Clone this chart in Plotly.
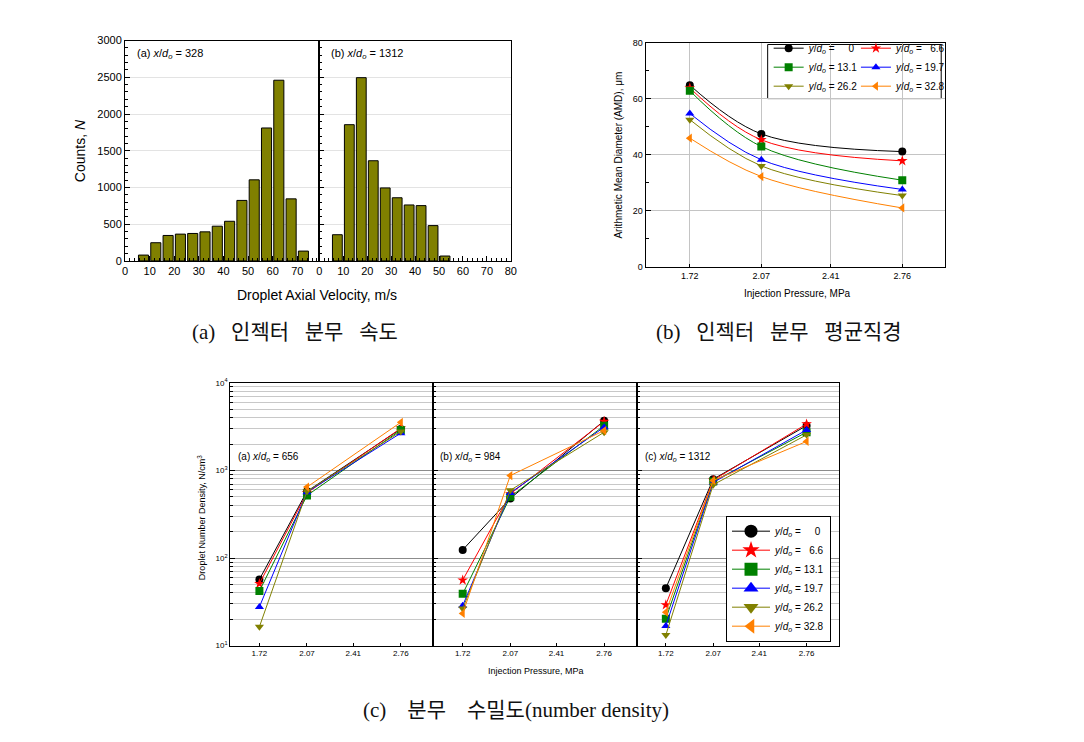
import plotly.graph_objects as go

W, H = 1084, 742
OFF = 8  # default page margin of the html body


def px(x):
    return (x - OFF) / W


def py(y):
    return 1 - (y - OFF) / H


FONT = "Arial, Liberation Sans, sans-serif"
CAP_FONT = "Liberation Serif, Noto Sans CJK KR, serif"

# ---------------- data: (a) droplet axial velocity histograms ----------------
vel_a = [7.5, 12.5, 17.5, 22.5, 27.5, 32.5, 37.5, 42.5, 47.5, 52.5, 57.5, 62.5, 67.5, 72.5]
cnt_a = [80, 248, 347, 365, 374, 396, 473, 540, 824, 1104, 1810, 2460, 845, 134]
vel_b = [7.5, 12.5, 17.5, 22.5, 27.5, 32.5, 37.5, 42.5, 47.5, 52.5]
cnt_b = [357, 1855, 2495, 1364, 994, 860, 762, 753, 481, 67]
vel_ticks_a = [0, 10, 20, 30, 40, 50, 60, 70]
vel_ticks_b = [0, 10, 20, 30, 40, 50, 60, 70, 80]

# ---------------- data: (b) arithmetic mean diameter ----------------
pressure = [1.72, 2.07, 2.76]
pressure_ticks = [1.72, 2.07, 2.41, 2.76]
pressure_ticktext = ["1.72", "2.07", "2.41", "2.76"]
series_labels = ["\u2007\u20070", "\u20076.6", "13.1", "19.7", "26.2", "32.8"]

amd_y0 = [64.8, 47.4, 41.1]
amd_y66 = [63.8, 45.3, 37.8]
amd_y131 = [62.8, 42.9, 30.9]
amd_y197 = [54.7, 38.2, 27.6]
amd_y262 = [52.5, 36.0, 25.4]
amd_y328 = [45.9, 32.2, 21.0]

# ---------------- data: (c) droplet number density ----------------
nd_a_y0 = [57, 578, 2985]
nd_a_y66 = [51, 555, 3030]
nd_a_y131 = [42, 518, 2900]
nd_a_y197 = [27.7, 566, 2670]
nd_a_y262 = [16.4, 578, 2785]
nd_a_y328 = [None, 647, 3550]

nd_b_y0 = [124, 479, 3700]
nd_b_y66 = [56, 540, 3640]
nd_b_y131 = [39, 500, 3250]
nd_b_y197 = [28.6, 555, 3115]
nd_b_y262 = [26.5, 594, 2735]
nd_b_y328 = [23.3, 875, 2860]

nd_c_y0 = [45.3, 796, 3252]
nd_c_y66 = [29.2, 776, 3395]
nd_c_y131 = [20.3, 750, 2735]
nd_c_y197 = [16.8, 731, 2905]
nd_c_y262 = [13.2, 688, 2553]
nd_c_y328 = [24.1, 769, 2148]

panel_tags = ["(a) <i>x</i>/<i>d</i><sub><i>o</i></sub> = 656",
              "(b) <i>x</i>/<i>d</i><sub><i>o</i></sub> = 984",
              "(c) <i>x</i>/<i>d</i><sub><i>o</i></sub> = 1312"]

colors = ["#000000", "#FF0000", "#008000", "#0000FF", "#808000", "#FF8000"]
symbols = ["circle", "star", "square", "triangle-up", "triangle-down", "triangle-left"]


def leg_name(lbl):
    return "<i>y</i>/<i>d</i><sub><i>o</i></sub> = " + lbl


fig = go.Figure()

# ---------- histograms ----------
fig.add_trace(go.Bar(x=vel_a, y=cnt_a, width=4.1, marker=dict(color="#808000", line=dict(color="black", width=1)),
                     xaxis="x", yaxis="y", showlegend=False))
fig.add_trace(go.Bar(x=vel_b, y=cnt_b, width=4.1, marker=dict(color="#808000", line=dict(color="black", width=1)),
                     xaxis="x2", yaxis="y2", showlegend=False))

# ---------- AMD ----------
amd_series = [amd_y0, amd_y66, amd_y131, amd_y197, amd_y262, amd_y328]
for i, ys in enumerate(amd_series):
    fig.add_trace(go.Scatter(
        x=pressure, y=ys, mode="lines+markers",
        line=dict(color=colors[i], width=1, shape="spline"),
        marker=dict(symbol=symbols[i], size=8, color=colors[i]),
        name=leg_name(series_labels[i]),
        xaxis="x3", yaxis="y3",
        legend="legend2" if i % 2 == 0 else "legend3",
        showlegend=True,
    ))

# ---------- number density ----------
panels = [
    ("x4", "y4", [nd_a_y0, nd_a_y66, nd_a_y131, nd_a_y197, nd_a_y262, nd_a_y328]),
    ("x5", "y5", [nd_b_y0, nd_b_y66, nd_b_y131, nd_b_y197, nd_b_y262, nd_b_y328]),
    ("x6", "y6", [nd_c_y0, nd_c_y66, nd_c_y131, nd_c_y197, nd_c_y262, nd_c_y328]),
]
for xa, ya, series in panels:
    for i, ys in enumerate(series):
        fig.add_trace(go.Scatter(
            x=pressure, y=ys, mode="lines+markers",
            line=dict(color=colors[i], width=1),
            marker=dict(symbol=symbols[i], size=8, color=colors[i]),
            xaxis=xa, yaxis=ya, showlegend=False,
        ))
# legend entries (larger symbols) for the number-density panels
for i in range(6):
    fig.add_trace(go.Scatter(
        x=[None], y=[None], mode="lines+markers",
        line=dict(color=colors[i], width=1),
        marker=dict(symbol=symbols[i], size=13, color=colors[i]),
        name=leg_name(series_labels[i]),
        xaxis="x6", yaxis="y6", legend="legend", showlegend=True,
    ))

# ---------- axes ----------
common = dict(showline=True, linecolor="black", linewidth=1, mirror=True, zeroline=False,
              ticks="inside", tickcolor="black")

hist_x = dict(common, range=[0, 79], tickvals=vel_ticks_a, ticklen=5,
              minor=dict(ticks="inside", ticklen=3, dtick=2, tickcolor="black"),
              showgrid=False, tickfont=dict(size=11, family=FONT, color="black"))
hist_y = dict(common, range=[0, 3000], dtick=500, ticklen=5,
              minor=dict(ticks="inside", ticklen=3, dtick=100, tickcolor="black"),
              showgrid=True, gridcolor="#e3e3e3", gridwidth=1,
              tickfont=dict(size=11, family=FONT, color="black"))

amd_x = dict(common, range=[1.504, 2.97], tickvals=pressure_ticks, ticktext=pressure_ticktext, ticklen=3,
             showgrid=True, gridcolor="#c4c4c4", tickfont=dict(size=9, family=FONT, color="black"))
amd_y = dict(common, range=[0, 80], dtick=20, ticklen=5,
             minor=dict(ticks="inside", ticklen=3, dtick=10, tickcolor="black"),
             showgrid=True, gridcolor="#c4c4c4", tickfont=dict(size=9, family=FONT, color="black"))

minor_vals = [m * 10 ** k for k in (1, 2, 3) for m in range(2, 10)]
nd_x = dict(common, range=[1.505, 3.0], tickvals=pressure_ticks, ticktext=pressure_ticktext, ticklen=3,
            showgrid=False, tickfont=dict(size=8, family=FONT, color="black"))
nd_y = dict(common, type="log", range=[1, 4], tickvals=[10, 100, 1000, 10000],
            ticktext=["10<sup>1</sup>", "10<sup>2</sup>", "10<sup>3</sup>", "10<sup>4</sup>"], ticklen=5,
            showgrid=True, gridcolor="#8c8c8c", gridwidth=1,
            minor=dict(tickmode="array", tickvals=minor_vals, ticks="inside", ticklen=3, tickcolor="black",
                       showgrid=True, gridcolor="#c8c8c8", gridwidth=1),
            tickfont=dict(size=8, family=FONT, color="black"))

hist_dom_y = [py(259), py(35)]
amd_dom_y = [py(265), py(37)]
nd_dom_y = [py(650), py(383)]

fig.update_layout(
    xaxis=dict(hist_x, domain=[px(123), px(319)], anchor="y"),
    yaxis=dict(hist_y, domain=hist_dom_y, anchor="x"),
    xaxis2=dict(hist_x, domain=[px(319), px(512)], anchor="y2", range=[0, 80], tickvals=vel_ticks_b),
    yaxis2=dict(hist_y, domain=hist_dom_y, anchor="x2", showticklabels=False),
    xaxis3=dict(amd_x, domain=[px(648), px(950)], anchor="y3"),
    yaxis3=dict(amd_y, domain=amd_dom_y, anchor="x3"),
    xaxis4=dict(nd_x, domain=[px(229), px(434)], anchor="y4"),
    yaxis4=dict(nd_y, domain=nd_dom_y, anchor="x4"),
    xaxis5=dict(nd_x, domain=[px(434), px(639)], anchor="y5"),
    yaxis5=dict(nd_y, domain=nd_dom_y, anchor="x5", showticklabels=False),
    xaxis6=dict(nd_x, domain=[px(639), px(843)], anchor="y6"),
    yaxis6=dict(nd_y, domain=nd_dom_y, anchor="x6", showticklabels=False),
)

legend_font = dict(family=FONT, size=10, color="black")
fig.update_layout(
    legend=dict(x=px(729), y=py(646), xanchor="left", yanchor="bottom", bgcolor="white",
                bordercolor="black", borderwidth=1, font=legend_font, tracegroupgap=0,
                itemwidth=38),
    legend2=dict(x=px(772), y=py(28), xanchor="left", yanchor="top", bgcolor="rgba(0,0,0,0)",
                 borderwidth=0, font=legend_font, tracegroupgap=0, itemwidth=30),
    legend3=dict(x=px(860), y=py(28), xanchor="left", yanchor="top", bgcolor="rgba(0,0,0,0)",
                 borderwidth=0, font=legend_font, tracegroupgap=0, itemwidth=30),
)

shapes = [
    dict(type="rect", xref="paper", yref="paper", x0=px(771), x1=px(946), y0=py(94), y1=py(39),
         line=dict(color="black", width=1), fillcolor="white", layer="below"),
]

ann = []


def add_text(text, x, y, size, xanchor="center", yanchor="middle", angle=0, family=FONT, color="black"):
    ann.append(dict(text=text, x=px(x), y=py(y), xref="paper", yref="paper", showarrow=False,
                    xanchor=xanchor, yanchor=yanchor, textangle=angle,
                    font=dict(size=size, family=family, color=color)))


# histogram texts
add_text("(a) <i>x</i>/<i>d</i><sub><i>o</i></sub> = 328", 133, 49, 11, xanchor="left")
add_text("(b) <i>x</i>/<i>d</i><sub><i>o</i></sub> = 1312", 329, 49, 11, xanchor="left")
add_text("Counts, <i>N</i>", 77, 147, 14, angle=-90)
add_text("Droplet Axial Velocity, m/s", 317, 294, 14)

# AMD texts
add_text("Arithmetic Mean Diameter (AMD), \u03bcm", 621, 151, 10, angle=-90)
add_text("Injection Pressure, MPa", 801, 292, 10)

# number density texts
add_text(panel_tags[0], 235, 458, 10, xanchor="left")
add_text(panel_tags[1], 439, 458, 10, xanchor="left")
add_text(panel_tags[2], 645, 458, 10, xanchor="left")
add_text("Droplet Number Density, N/cm<sup>3</sup>", 200, 520, 9, angle=-90)
add_text("Injection Pressure, MPa", 537, 676, 9)

# captions
sp = "\u00a0\u00a0\u00a0"
sp4 = "\u00a0\u00a0\u00a0\u00a0"
add_text("(a)" + sp + "인젝터" + sp + "분무" + sp + "속도", 294, 331, 21, family=CAP_FONT, color="#111111")
add_text("(b)" + sp + "인젝터" + sp + "분무" + sp + "평균직경", 782, 331, 21, family=CAP_FONT, color="#111111")
add_text("(c)" + sp4 + "분무" + sp4 + "수밀도(number density)", 517, 715, 21, family=CAP_FONT, color="#111111")

fig.update_layout(
    width=W, height=H, margin=dict(l=0, r=0, t=0, b=0),
    paper_bgcolor="white", plot_bgcolor="white",
    annotations=ann, shapes=shapes, showlegend=True,
    font=dict(family=FONT, color="black"),
)

fig.write_html("out.html")
